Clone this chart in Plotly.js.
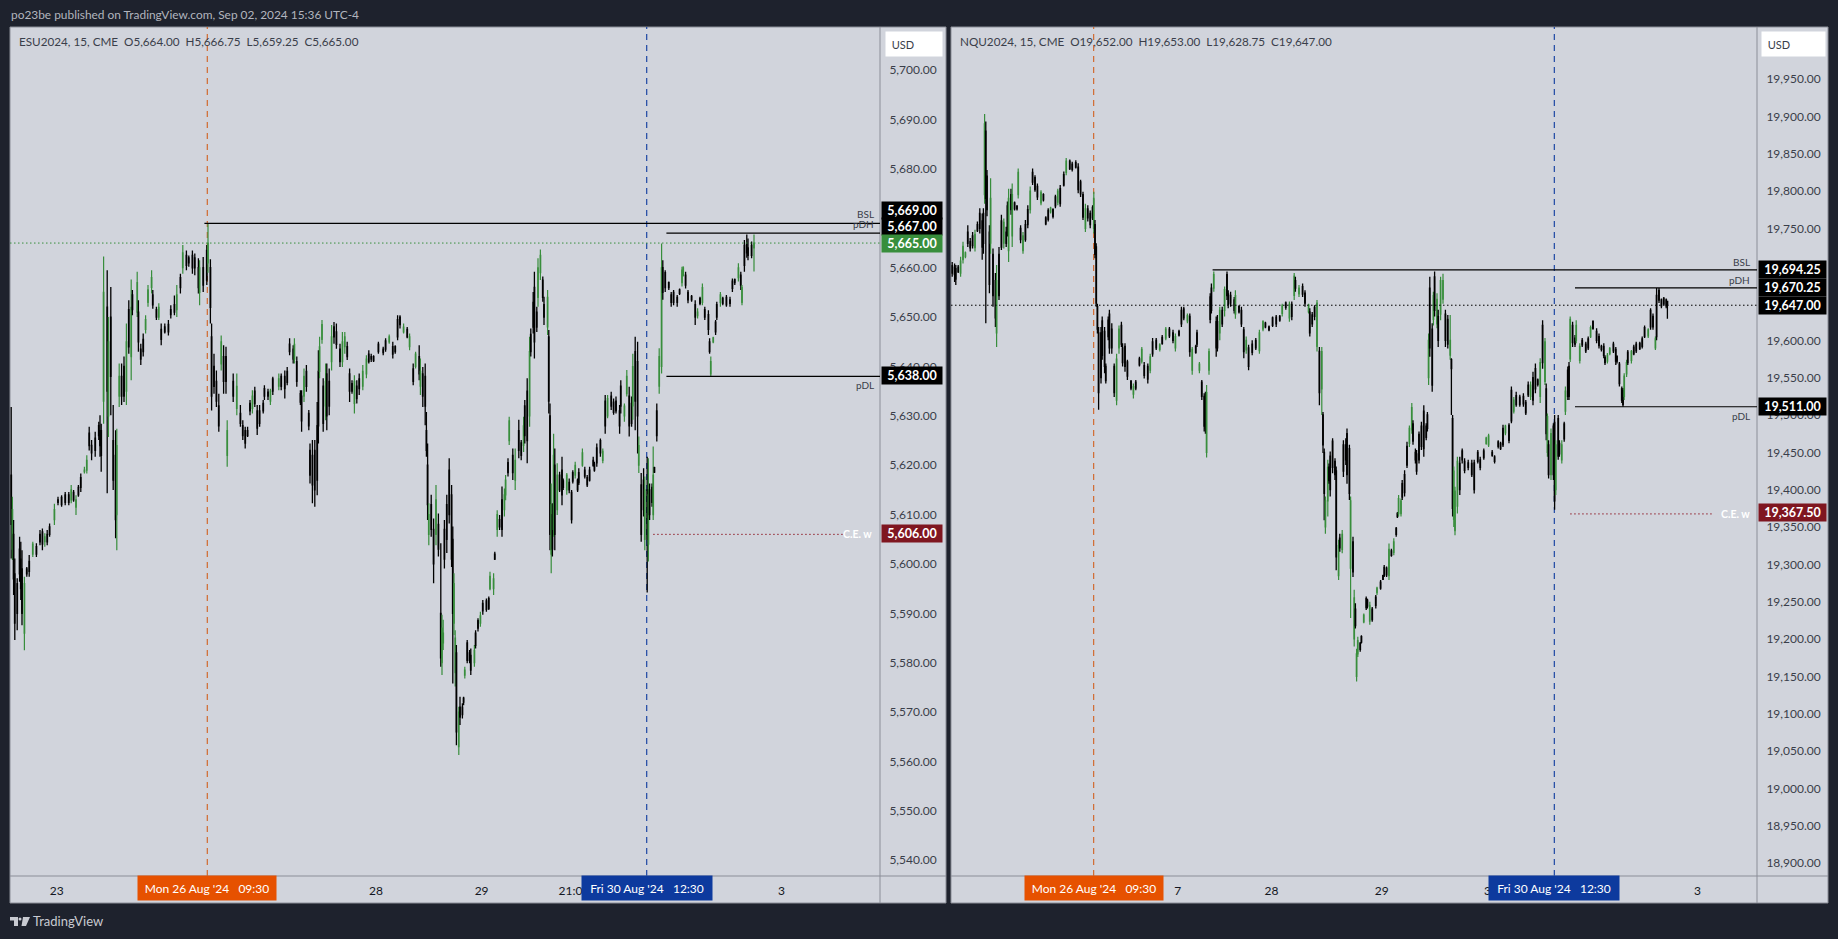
<!DOCTYPE html>
<html>
<head>
<meta charset="utf-8">
<script src="https://cdn.plot.ly/plotly-3.0.1.min.js"></script>
<style>html,body{margin:0;padding:0;background:#1e222d;overflow:hidden}</style>
</head>
<body>
<div id="chart" style="width:1838px;height:939px"></div>
<script>
const esBar=[
1,2,3,4,6,8,9,10,12,14,
16,19,22,25,27,29,31,33,37,40,
43,46,49,51,53,55,57,59,62,64,
66,68,71,74,75,76,78,81,82,84,
86,88,89,91,93,95,97,99,101,102,
106,107,109,111,113,115,118,119,122,124,
126,129,132,134,137,139,142,144,147,149,
152,154,157,158,161,164,165,167,168,170,
172,174,176,178,180,181,186,189,192,194,
196,198,200,202,204,206,208,211,212,215,
217,219,224,226,229,231,233,236,237,239,
242,243,245,247,249,250,252,254,256,257,
258,260,261,263,264,266,268,270,272,275,
277,279,281,283,285,287,289,291,294,297,
299,301,303,307,311,313,316,319,321,323,
325,328,331,333,336,338,341,342,344,346,
347,348,349,351,353,355,357,359,360,361,
362,364,366,368,369,370,371,372,374,375,
377,378,379,381,383,384,387,388,390,392,
394,397,399,400,403,404,406,408,410,412,
413,415,416,419,421,424,426,428,429,431,
433,434,436,437,439,440,442,444,445,448,
449,450,451,452,453,454,456,458,460,461,
464,466,468,469,471,473,474,477,479,481,
483,486,487,489,492,494,496,498,501,503,
505,508,509,512,514,516,518,519,521,523,
524,526,528,529,531,532,533,535,536,537,
539,541,543,544,546,549,551,553,556,558,
560,561,563,565,568,571,573,575,577,579,
582,583,584,586,588,589,592,594,597,600,
602,604,607,609,610,612,614,615,618,620];
const esHigh=[
5631.8,5613.6,5608.9,5601.1,5597.1,5605.5,5604.5,5602.8,5597.4,5599.4,
5601.8,5604.5,5604.2,5606.9,5607.2,5606.2,5606.9,5608.2,5612.2,5613.6,
5613.9,5614.6,5614.6,5616,5615,5613.9,5616,5618.3,5619.7,5622,
5627.8,5625.1,5626.8,5628.8,5630.1,5628.4,5662.3,5659.5,5650,5656.1,
5632.2,5627.1,5627.4,5640.6,5640.6,5642,5648.7,5653.4,5657.6,5655.5,
5659.2,5653.4,5644.6,5646.7,5650.4,5656.5,5659.5,5655.5,5652.1,5652.8,
5648.7,5648.7,5649.4,5652.4,5654.4,5656.5,5658.8,5664.6,5663.5,5662.5,
5663.5,5662.9,5661.9,5661.5,5662.2,5664.6,5669,5661.7,5648.7,5642.6,
5639.2,5634.5,5646.3,5644.3,5644,5629.1,5638.6,5638.6,5632.2,5629.1,
5627.8,5627.8,5633.2,5635.2,5635.9,5632.2,5632.2,5633.2,5636.2,5635.5,
5635.5,5637.9,5638.6,5638.6,5639.2,5639.9,5645.7,5644.3,5645.7,5642,
5635.2,5635.2,5639.6,5640.3,5631.2,5624.4,5625.1,5625.1,5632.8,5643.3,
5646,5649.4,5637.6,5640.6,5640.6,5639.6,5648.4,5649,5648.7,5644.6,
5647,5647,5645,5639.6,5637.2,5638.2,5637.2,5638.6,5640.3,5642.3,
5643.3,5642.6,5642.3,5645,5644,5645.7,5646.5,5645,5644.3,5650.4,
5650.4,5648.7,5648,5646.7,5640.6,5643,5644.3,5641.6,5639.9,5640.6,
5630.8,5624.4,5612.3,5614,5609.2,5616,5610.2,5604.2,5589.7,5588.7,
5608.9,5614,5621.4,5616,5607.6,5598.1,5586.6,5583.6,5571.1,5573.1,
5571.8,5573.1,5579.2,5584.6,5582.6,5582.9,5583.6,5586.6,5589,5590.3,
5592.7,5593,5593.4,5598.4,5598.1,5602.5,5610.9,5609.9,5615.7,5615.3,
5618,5621.4,5629.8,5623.4,5623.4,5629.2,5625.1,5629.8,5633.2,5637.6,
5646,5647.7,5655.1,5659.2,5652.1,5661.9,5663.7,5658.2,5654.1,5655.5,
5647.4,5632.5,5616.3,5612.3,5626.4,5623.4,5620.4,5618.7,5621.7,5617.3,
5618.4,5617.3,5615,5619,5620.7,5617.3,5619.4,5623.4,5619.7,5618,
5619.7,5621.7,5620.7,5624.4,5625.4,5623.4,5634.2,5634.2,5634.9,5633.5,
5633.9,5632.2,5637.2,5632.5,5639.3,5635.9,5633.9,5642.6,5646,5645,
5625.8,5618.4,5619.4,5617.7,5621.7,5621.4,5616.3,5616.3,5623.8,5619.7,
5632.5,5643.7,5664.9,5661.5,5659.5,5657.2,5655.1,5655.5,5654.5,5655.8,
5660.2,5660.3,5659.2,5655.5,5654.5,5653.4,5651.8,5654.1,5656.8,5652.1,
5651.4,5645.7,5642,5646,5649.4,5653.1,5655.1,5654.1,5654.5,5654.1,
5657.8,5657.8,5660.9,5659.2,5656.5,5665.6,5666.75,5665.9,5665.3,5666.75];
const esLow=[
5601.1,5600.8,5593.7,5584.6,5586.6,5596.4,5592.7,5587.6,5582.5,5597.4,
5597.4,5601.4,5601.4,5603.8,5602.8,5603.5,5603.8,5605.5,5607.9,5611.9,
5611.6,5611.9,5611.9,5612.3,5612.6,5609.9,5613.6,5614.6,5618.3,5618.3,
5623,5621,5621.7,5625.1,5621.7,5618.7,5628.4,5614.3,5625.7,5630.1,
5615,5605.2,5602.8,5631.8,5632.2,5632.8,5632.2,5642.6,5637.2,5650.4,
5650,5643,5640.3,5642,5646.7,5652.1,5654.8,5651.7,5649.4,5649.4,
5644.3,5646.7,5646.3,5649.7,5650.4,5650,5654.8,5658.8,5659.5,5660.2,
5658.8,5658.5,5654.8,5652.4,5655.1,5656.5,5659,5648.7,5631.1,5634.5,
5631.8,5626.8,5639.2,5634.5,5634.5,5619.7,5632.8,5630.1,5627.8,5625.1,
5623.4,5625.7,5630.1,5630.5,5631.8,5626.1,5627.8,5630.5,5633.2,5633.2,
5632.2,5634.2,5635.2,5635.2,5633.5,5636.2,5642.3,5640.6,5640.6,5635.9,
5632.2,5626.8,5632.8,5634.9,5627.1,5616.3,5612.3,5611.6,5613.9,5624.4,
5637.6,5644.6,5626.8,5629.1,5627.1,5630.1,5639.2,5644.6,5643.6,5639.9,
5639.9,5642.6,5641.3,5632.8,5634.5,5630.5,5632.5,5634.2,5635.2,5637.6,
5640.6,5640.9,5640.9,5642.6,5642.3,5643,5644.6,5641.6,5642.6,5645.3,
5647.7,5646.7,5645.7,5643.3,5636.2,5639.6,5637.2,5634.2,5631.8,5628.1,
5621.7,5608.9,5603.8,5605.5,5596.1,5603.8,5601.5,5579.2,5577.5,5582.6,
5599.1,5602.2,5608.2,5599.4,5575.8,5585.6,5575.2,5563.3,5561.3,5567.4,
5568.7,5571.4,5576.8,5579.9,5579.9,5577.5,5579.2,5582.9,5586.3,5587.3,
5589.7,5590.3,5590.7,5594.7,5593.7,5600.8,5605.5,5606.9,5605.5,5609.6,
5612.9,5617.7,5624.1,5617,5615,5621.4,5621,5622.7,5624.4,5620.4,
5627.8,5642,5646.7,5641.6,5647,5652.1,5657.5,5653.1,5648.4,5646.4,
5630.5,5602.8,5598.1,5601.5,5605.5,5602.8,5609.9,5614.6,5611.9,5615,
5614,5614.3,5608.2,5616.3,5617.3,5614.6,5616,5619.7,5617.3,5615.6,
5616.7,5619.7,5618.7,5619.7,5621.7,5620.4,5626.4,5629.5,5631.2,5630.2,
5630.5,5626.4,5630.5,5628.8,5633.9,5625.8,5627.8,5629.2,5627.1,5622.4,
5618.4,5604.5,5609.6,5602.8,5594.2,5600.5,5608.9,5611.6,5608.9,5618.4,
5624.8,5634.5,5638.6,5653.5,5655.1,5655.5,5652.1,5652.4,5652.1,5654.5,
5656.2,5658.2,5655.8,5652.8,5653.1,5648.4,5649.7,5652.4,5652.4,5649.4,
5646.4,5642.6,5637.9,5644.7,5646.4,5649.4,5652.1,5652.4,5652.1,5652.1,
5655.1,5656.5,5657.2,5655.5,5652.4,5659.2,5662,5661.5,5661.9,5659.25];
const esBodyA=[
5618,5603,5606,5598,5596,5598,5601,5599,5586,5599,
5598.5,5602,5603.5,5604.5,5606.5,5605.5,5604.5,5606,5611,5613,
5612,5614,5612.5,5613,5614.5,5613,5614,5615.5,5619,5621,
5626.5,5622.5,5625.5,5626,5627,5627,5633,5652,5630,5650,
5625,5622,5610,5634,5638,5634,5635,5651.5,5642,5654.5,
5651,5651,5643.5,5643,5647.5,5653,5658,5654.5,5651.5,5650,
5647.5,5647,5648.5,5650.5,5652.5,5651.5,5658,5660,5662.5,5661,
5660,5662,5660,5660,5656.5,5657.5,5661,5660,5646,5636,
5637,5632,5640.5,5642,5642,5622,5637,5631.5,5630.5,5628,
5627,5626,5631,5634,5632.5,5631,5628.5,5631,5635.5,5634.8,
5633,5635,5637.5,5636,5638,5636.8,5644.5,5643.5,5641.5,5641,
5634.5,5634,5634,5639,5630.5,5623,5622,5623,5617,5628,
5639,5645.5,5636,5632,5638.5,5632,5646,5648,5644.5,5643.5,
5641,5646,5644,5638.5,5635,5637,5633.5,5637.5,5636,5641.5,
5641,5641.5,5642,5644.5,5643.5,5643.5,5645,5644,5643,5646,
5650,5648,5647.5,5646,5639.5,5640,5642,5639,5638.5,5638,
5627,5620,5606,5612,5607,5606,5608,5590,5580,5584,
5607,5612,5619,5614,5605,5596,5578,5582,5563,5571,
5571,5572,5577.5,5584,5582,5578.5,5582.5,5583.5,5587,5589.5,
5592,5590.8,5593,5595,5597,5601,5607,5609,5607,5614,
5614,5618.5,5625,5622,5617,5627,5624.5,5628,5626,5635,
5630,5643,5648,5656,5651,5654,5662.5,5657.5,5650,5654,
5646,5630,5602,5610,5607,5620,5611,5618,5614,5616.8,
5618,5615,5614.5,5616.8,5618,5617,5616.5,5620,5619,5617.5,
5617,5621,5619,5620.5,5625,5621,5633,5630,5634,5630.7,
5633,5631,5632,5632,5634.5,5634,5628.5,5632,5643,5641,
5624,5616,5611,5615,5615,5604,5615,5615.5,5610,5618.6,
5626,5636,5640,5660,5659,5656,5653,5655,5653,5654.8,
5657,5658.5,5658.5,5655,5653.5,5652.5,5651,5652.8,5653,5651.5,
5650.5,5645,5638.5,5645,5647,5650,5654.5,5653.8,5652.5,5653.5,
5655.8,5657,5658,5658.5,5653,5660.5,5665,5664,5664.5,5664];
const esBodyB=[
5608,5611,5597,5588,5590,5603,5595,5590,5596,5598,
5600.5,5604,5602,5606,5604,5604.5,5606,5607.5,5609,5612.5,
5613.5,5612.5,5614,5615,5613,5611.5,5615.5,5617.5,5618.7,5619,
5624,5624,5623,5628,5624,5622,5655,5635,5645,5638,
5617,5609,5624,5638,5634,5640,5645,5644,5652,5651.5,
5657,5645,5641.5,5645.5,5649.5,5655.5,5656,5652.5,5650,5652,
5645.5,5648,5647,5651.5,5651,5654.5,5656,5663,5660.5,5662,
5662.5,5660,5656,5655,5660,5663.5,5665,5652,5634,5640,
5633,5628,5645,5637,5637,5627,5634,5636,5628.5,5626,
5624.5,5627,5632.5,5631.5,5635,5627.5,5631,5632.5,5634,5634,
5635,5637.5,5636,5638,5635.5,5639,5643,5641.5,5644.5,5637,
5632.8,5629,5638,5636,5628,5618,5616,5615,5628,5639,
5644,5648.5,5628.5,5637,5630,5637,5641,5646,5647,5641,
5645,5644,5642,5635,5636.5,5632.5,5636,5635.5,5639,5638.5,
5642.5,5642,5641.2,5643,5642.8,5645.2,5646,5642.5,5644,5649.5,
5648.5,5647,5646,5644,5637,5642.5,5638.5,5636,5634,5632,
5623,5612,5610,5607,5600,5613,5603,5581,5587,5586,
5601,5605,5610,5601,5590,5588,5585,5566,5570,5569,
5569.5,5572.8,5578.5,5580.5,5580.5,5581.5,5580,5586,5588.5,5588,
5590.5,5592.5,5591,5597.5,5595,5602,5610,5607.5,5613,5611,
5617,5620.5,5629,5618.5,5621,5623,5622,5624,5632,5625,
5643,5646.5,5653,5645,5648,5660,5659,5654,5652.5,5648,
5633,5606,5612,5603,5622,5606,5618,5615,5619,5615.5,
5615,5616.5,5609,5618.5,5620,5615,5618.5,5622.5,5617.8,5616,
5619,5620,5620.2,5623.5,5622.5,5622.8,5628,5633.5,5632,5632.8,
5631,5628,5636,5630,5638,5628,5632.5,5640,5633,5630,
5620,5606,5617,5605,5605,5614,5610,5612.5,5618,5619.5,
5631,5642,5660,5655,5656,5657,5654.5,5653,5654,5655.5,
5659.5,5660,5656.5,5653.5,5654.2,5650,5650.3,5653.8,5656,5650,
5647.5,5643,5641,5645.8,5649,5652.5,5653,5652.8,5654,5652.8,
5657.3,5657.6,5660,5656.5,5656,5664.5,5663,5662.5,5662.5,5665];
const esUpBars=[2,12,19,29,37,51,55,62,64,78,82,89,91,97,101,106,113,115,118,124,139,144,158,165,176,181,189,202,217,224,237,245,258,260,263,268,277,279,287,294,297,316,328,333,338,342,349,355,360,361,370,371,374,379,387,392,400,403,406,412,413,416,421,428,433,440,442,448,451,453,456,464,471,477,494,498,512,514,519,524,529,532,536,541,543,560,561,573,577,584,586,592,607,610,620];

const nqBar=[
1,3,4,6,8,10,12,14,16,18,
20,22,24,26,27,28,29,30,32,33,
35,37,38,40,42,44,46,47,48,50,
51,53,55,56,58,60,62,64,66,68,
70,72,75,77,79,81,83,85,87,89,
91,94,96,99,101,104,106,108,110,112,
114,116,118,119,120,121,122,123,125,126,
128,129,131,132,134,136,138,140,142,143,
145,147,150,152,154,157,159,161,164,166,
168,171,174,176,179,182,185,187,190,192,
194,197,199,201,204,205,207,209,211,212,
213,215,216,217,219,221,222,224,226,228,
230,231,233,236,237,240,242,244,246,248,
251,254,257,260,262,265,268,271,274,276,
279,282,284,286,287,290,293,295,298,299,
301,303,305,307,309,310,311,312,314,315,
316,318,320,321,323,324,326,327,329,330,
332,333,335,336,337,338,339,341,342,344,
346,347,349,351,354,355,358,360,361,363,
365,367,369,371,372,373,375,376,378,380,
382,384,385,387,388,390,392,394,396,397,
398,399,401,402,403,405,406,408,410,412,
414,416,417,418,419,420,422,424,426,428,
431,434,436,439,441,444,446,448,451,453,
456,458,460,462,465,467,469,471,474,477,
479,481,483,485,487,489,491,493,495,496,
497,498,500,502,503,504,506,507,509,511,
512,514,515,516,518,520,521,524,526,529,
531,533,535,538,540,542,544,545,547,549,
552,554,555,557,559,560,561,563,564,567,
569,571,574,576,578,581,583,585,587,588,
590,592,594,596,597];
const nqHigh=[
19705,19703,19701,19701,19712,19732,19719,19754,19737,19745,
19748,19759,19777,19770,19777,19903,19893,19828,19754,19817,
19723,19690,19701,19725,19768,19763,19752,19786,19803,19803,
19810,19786,19781,19830,19754,19745,19761,19781,19806,19830,
19821,19810,19801,19797,19766,19777,19779,19777,19795,19803,
19808,19826,19844,19842,19839,19841,19837,19815,19799,19783,
19781,19774,19781,19799,19761,19730,19649,19618,19618,19632,
19618,19569,19632,19641,19623,19569,19582,19620,19625,19596,
19596,19574,19547,19542,19547,19578,19591,19571,19569,19582,
19603,19603,19596,19607,19618,19618,19614,19609,19614,19645,
19645,19636,19636,19591,19594,19614,19571,19547,19529,19531,
19540,19589,19663,19676,19692,19632,19634,19645,19645,19672,
19692,19667,19665,19658,19667,19647,19645,19618,19605,19594,
19600,19603,19614,19627,19625,19620,19632,19634,19634,19649,
19652,19652,19652,19690,19685,19674,19676,19667,19649,19643,
19638,19647,19654,19591,19591,19504,19455,19391,19440,19435,
19451,19469,19442,19431,19333,19341,19346,19466,19469,19482,
19460,19391,19337,19266,19248,19187,19203,19196,19205,19234,
19257,19254,19250,19243,19259,19270,19279,19286,19299,19297,
19328,19321,19335,19350,19370,19393,19388,19413,19426,19464,
19486,19516,19493,19455,19453,19478,19491,19513,19489,19504,
19609,19685,19623,19665,19692,19663,19641,19685,19689,19641,
19634,19634,19576,19500,19431,19404,19444,19444,19455,19442,
19440,19440,19440,19453,19444,19455,19471,19475,19453,19446,
19466,19464,19487,19487,19489,19538,19524,19531,19527,19529,
19520,19545,19545,19558,19569,19549,19576,19627,19603,19542,
19502,19466,19482,19489,19500,19466,19500,19466,19466,19491,
19538,19565,19571,19632,19625,19607,19627,19596,19603,19598,
19605,19620,19627,19616,19609,19594,19596,19580,19583,19591,
19598,19591,19580,19571,19538,19536,19556,19574,19587,19587,
19594,19598,19598,19605,19620,19616,19643,19636,19605,19670,
19670,19656,19658,19656,19653];
const nqLow=[
19685,19678,19674,19690,19685,19703,19710,19725,19719,19723,
19719,19745,19743,19708,19716,19783,19623,19766,19663,19716,
19645,19618,19591,19654,19721,19723,19725,19739,19705,19768,
19725,19774,19774,19790,19730,19716,19732,19750,19770,19808,
19799,19788,19781,19786,19754,19759,19770,19763,19777,19781,
19779,19806,19821,19828,19826,19830,19797,19792,19761,19745,
19759,19750,19761,19743,19710,19645,19609,19507,19542,19574,
19556,19542,19600,19582,19582,19524,19513,19582,19591,19565,
19558,19547,19533,19522,19533,19565,19569,19549,19542,19556,
19578,19587,19585,19594,19600,19603,19596,19585,19605,19618,
19627,19623,19578,19554,19582,19591,19556,19520,19478,19475,
19443,19554,19623,19636,19665,19578,19585,19600,19618,19632,
19654,19643,19645,19636,19629,19636,19618,19576,19582,19560,
19580,19587,19582,19612,19616,19612,19618,19618,19625,19632,
19641,19625,19627,19654,19665,19658,19658,19645,19636,19605,
19618,19627,19585,19513,19500,19449,19359,19341,19364,19408,
19391,19422,19413,19292,19279,19317,19315,19417,19433,19408,
19386,19228,19283,19190,19214,19143,19176,19183,19194,19221,
19239,19241,19219,19223,19241,19259,19266,19279,19283,19283,
19279,19310,19312,19337,19362,19364,19364,19386,19391,19429,
19457,19475,19460,19435,19420,19435,19453,19444,19466,19478,
19540,19578,19531,19620,19632,19616,19591,19627,19649,19591,
19589,19574,19500,19364,19350,19339,19368,19393,19435,19422,
19426,19417,19395,19435,19426,19440,19460,19457,19444,19435,
19455,19453,19457,19473,19462,19489,19502,19511,19511,19511,
19500,19524,19520,19513,19529,19538,19516,19562,19540,19466,
19444,19415,19413,19413,19373,19393,19440,19444,19435,19464,
19500,19520,19520,19571,19591,19591,19596,19569,19591,19583,
19587,19603,19614,19596,19589,19585,19576,19567,19569,19580,
19583,19567,19569,19538,19516,19511,19520,19551,19567,19569,
19580,19583,19587,19589,19603,19603,19614,19614,19587,19600,
19650,19643,19647,19643,19628.75];
const nqBodyA=[
19700,19688,19696,19692,19690,19708,19712,19745,19732,19727,
19724,19747,19770,19760,19730,19795,19880,19820,19675,19790,
19715,19680,19610,19660,19725,19758,19730,19745,19720,19795,
19740,19784,19776,19795,19750,19720,19735,19755,19775,19825,
19818,19792,19798,19788,19764,19762,19777,19766,19780,19800,
19783,19808,19825,19840,19829,19838,19832,19812,19795,19750,
19776,19770,19764,19790,19755,19725,19645,19610,19550,19626,
19612,19546,19605,19635,19590,19565,19520,19615,19595,19590,
19592,19571,19545,19528,19544,19567,19588,19553,19565,19560,
19582,19600,19594,19596,19603,19615,19600,19605,19607,19622,
19642,19626,19632,19588,19584,19595,19568,19544,19525,19482,
19450,19560,19628,19640,19670,19625,19590,19640,19622,19668,
19660,19662,19650,19654,19635,19645,19640,19614,19587,19590,
19595,19590,19586,19615,19623,19614,19620,19631,19627,19646,
19650,19630,19648,19660,19680,19662,19672,19663,19647,19638,
19622,19644,19650,19585,19535,19500,19450,19350,19430,19430,
19400,19465,19420,19425,19325,19322,19340,19425,19460,19475,
19455,19385,19290,19200,19240,19150,19180,19194,19196,19223,
19242,19252,19245,19226,19245,19262,19276,19280,19285,19295,
19285,19318,19316,19340,19364,19368,19385,19390,19420,19433,
19462,19480,19488,19450,19425,19474,19458,19505,19470,19482,
19550,19590,19615,19628,19640,19655,19600,19635,19680,19635,
19628,19600,19574,19495,19360,19345,19438,19400,19452,19426,
19436,19420,19436,19438,19440,19443,19462,19472,19450,19438,
19458,19462,19460,19485,19486,19492,19520,19514,19524,19515,
19517,19527,19540,19520,19562,19541,19525,19570,19598,19535,
19498,19460,19420,19485,19490,19400,19445,19462,19440,19468,
19505,19525,19525,19575,19620,19595,19600,19592,19594,19595,
19590,19605,19625,19612,19605,19592,19592,19577,19572,19582,
19595,19588,19572,19568,19535,19533,19525,19555,19570,19585,
19582,19595,19589,19592,19605,19614,19618,19632,19602,19605,
19667,19654,19649,19654,19652];
const nqBodyB=[
19690,19698,19682,19698,19706,19726,19717,19730,19724,19740,
19742,19755,19750,19725,19770,19890,19790,19775,19745,19730,
19660,19630,19680,19715,19760,19730,19745,19780,19790,19775,
19795,19776,19780,19825,19735,19740,19755,19775,19800,19812,
19802,19806,19784,19795,19756,19774,19772,19775,19792,19785,
19803,19822,19840,19830,19836,19832,19802,19796,19765,19776,
19764,19755,19778,19750,19715,19650,19615,19530,19610,19580,
19565,19565,19627,19590,19615,19530,19575,19590,19620,19570,
19565,19552,19536,19538,19536,19575,19572,19566,19548,19578,
19598,19590,19588,19604,19615,19606,19610,19590,19612,19640,
19630,19633,19585,19560,19592,19610,19560,19525,19485,19525,
19530,19585,19658,19670,19688,19590,19625,19610,19640,19640,
19688,19648,19660,19640,19660,19638,19622,19585,19600,19565,
19584,19600,19610,19625,19618,19618,19630,19622,19632,19636,
19644,19648,19632,19686,19670,19670,19662,19650,19638,19610,
19634,19632,19592,19530,19585,19460,19395,19385,19385,19412,
19445,19430,19438,19310,19285,19335,19320,19460,19440,19420,
19395,19295,19330,19255,19218,19180,19198,19186,19203,19232,
19254,19244,19224,19240,19256,19268,19268,19285,19296,19286,
19320,19312,19330,19348,19368,19388,19368,19408,19396,19458,
19482,19510,19465,19440,19448,19440,19485,19455,19485,19500,
19600,19670,19540,19660,19685,19622,19632,19680,19655,19600,
19595,19580,19562,19375,19425,19398,19378,19435,19440,19438,
19430,19435,19400,19450,19430,19452,19469,19460,19446,19444,
19464,19455,19482,19476,19466,19533,19505,19526,19514,19525,
19503,19540,19525,19550,19535,19547,19570,19620,19545,19475,
19450,19420,19475,19420,19385,19460,19495,19448,19460,19488,
19532,19560,19565,19628,19597,19603,19620,19573,19600,19586,
19602,19617,19616,19600,19593,19588,19580,19570,19580,19589,
19586,19572,19578,19542,19520,19514,19552,19570,19584,19573,
19591,19586,19596,19602,19617,19606,19640,19618,19590,19660,
19654,19646,19656,19646,19647];
const nqUpBars=[8,10,12,20,28,33,38,44,48,51,56,60,66,75,83,89,96,112,119,138,140,152,159,166,174,179,187,197,201,207,213,215,219,224,228,237,246,257,260,276,282,286,290,298,305,309,312,314,323,326,333,336,338,339,344,349,355,365,369,373,375,382,384,398,402,405,408,410,416,419,420,422,446,448,462,469,483,491,495,497,500,504,509,512,516,521,524,533,547,549,561,563,567,581,587];

const esBarRange=[0,725], nqBarRange=[0,671.67];
const esPriceRange=[5536.8,5708.76], nqPriceRange=[18882.6,20019.6];
const esTickVals=[5540,5550,5560,5570,5580,5590,5600,5610,5620,5630,5640,5650,5660,5670,5680,5690,5700];
const nqTickVals=[18900,18950,19000,19050,19100,19150,19200,19250,19300,19350,19400,19450,19500,19550,19600,19650,19700,19750,19800,19850,19900,19950];
const esTimeBars=[39,305,393,470,643], esTimeLabels=['23','28','29','21:00','3'];
const nqTimeBars=[189,267,359,450,622], nqTimeLabels=['7','28','29','30','3'];
const es={bsl:5669,pdh:5667,last:5665,pdl:5638,ce:5606,mon:164.4,fri:530.6,bslFrom:162,levelFrom:547,ceFrom:536,ceTo:695};
const nq={bsl:19694.25,pdh:19670.25,last:19647,pdl:19511,ce:19367.5,mon:118.9,fri:502.75,bslFrom:218,levelFrom:520,ceFrom:516,ceTo:636};

const W=1838,H=939,FONT='Lato, "Noto Sans", sans-serif';
const PX=x=>x/W, PY=y=>1-y/H;
const TOP=27,PLOT_BOTTOM=876,BOTTOM=903;
const INK='#131722',TXT='#3a3e4a',PANEL='#d1d4dc',EDGE='#8b8e98',ORANGE='#e65100',BLUE='#0d3a9e',GREEN='#388e3c',RED='#7f1620';

function candles(xa,ya,x,a,b,h,l,up){
  const o=[],c=[];
  x.forEach((bar,i)=>{
    const lo=Math.min(a[i],b[i]),hi=Math.max(a[i],b[i]);
    if(up.includes(bar)){o.push(lo);c.push(hi);}else{o.push(hi);c.push(lo);}
  });
  return {type:'candlestick',xaxis:xa,yaxis:ya,x:x,open:o,high:h,low:l,close:c,whiskerwidth:0,
    increasing:{line:{color:GREEN,width:1.2},fillcolor:GREEN},
    decreasing:{line:{color:'#000000',width:1.3},fillcolor:'#000000'},
    hoverinfo:'skip',showlegend:false};
}
const data=[candles('x','y',esBar,esBodyA,esBodyB,esHigh,esLow,esUpBars),candles('x2','y2',nqBar,nqBodyA,nqBodyB,nqHigh,nqLow,nqUpBars)];

function xAxis(domain,range,vals,labels,anchor){
  return {domain:domain,range:range,type:'linear',anchor:anchor,fixedrange:true,showgrid:false,zeroline:false,
    showline:false,rangeslider:{visible:false},tickmode:'array',tickvals:vals,ticktext:labels,ticks:'outside',ticklen:4,
    tickcolor:'rgba(0,0,0,0)',tickfont:{family:FONT,size:12,color:INK}};
}
function yAxis(range,vals,anchor){
  return {domain:[PY(PLOT_BOTTOM),PY(TOP)],range:range,type:'linear',anchor:anchor,side:'right',fixedrange:true,showgrid:false,zeroline:false,
    showline:false,tickmode:'array',tickvals:vals,tickformat:',.2f',ticks:'outside',ticklen:6,
    tickcolor:'rgba(0,0,0,0)',tickfont:{family:FONT,size:12,color:TXT}};
}

const shapes=[];
function paperRect(x0,y0,x1,y1,fill,line){
  shapes.push({type:'rect',xref:'paper',yref:'paper',x0:PX(x0),x1:PX(x1),y0:PY(y0),y1:PY(y1),fillcolor:fill,line:{color:line||fill,width:line?1:0},layer:'below'});
}
function paperLine(x0,y0,x1,y1,color){
  shapes.push({type:'line',xref:'paper',yref:'paper',x0:PX(x0),x1:PX(x1),y0:PY(y0),y1:PY(y1),line:{color:color,width:1},layer:'above'});
}
function level(xr,yr,from,to,y,color,dash,width){
  shapes.push({type:'line',xref:xr,yref:yr,x0:from,x1:to,y0:y,y1:y,line:{color:color,width:width||1.2,dash:dash||'solid'},layer:'above'});
}
function vert(xr,x,color){
  shapes.push({type:'line',xref:xr,yref:'paper',x0:x,x1:x,y0:PY(PLOT_BOTTOM),y1:PY(TOP),line:{color:color,width:1.1,dash:'6px,5px'},layer:'below'});
}
paperRect(10,TOP,946,BOTTOM,PANEL,EDGE);
paperRect(951,TOP,1828,BOTTOM,PANEL,EDGE);
paperLine(880,TOP,880,BOTTOM,EDGE);paperLine(10,PLOT_BOTTOM,946,PLOT_BOTTOM,EDGE);
paperLine(1757,TOP,1757,BOTTOM,EDGE);paperLine(951,PLOT_BOTTOM,1828,PLOT_BOTTOM,EDGE);

function panelShapes(m,xr,yr,xMax){
  vert(xr,m.mon,'#d2601f');vert(xr,m.fri,BLUE);
  level(xr,yr,m.bslFrom,xMax,m.bsl,'#000');
  level(xr,yr,m.levelFrom,xMax,m.pdh,'#000');
  level(xr,yr,m.levelFrom,xMax,m.pdl,'#000');
}
panelShapes(es,'x','y',esBarRange[1]);
panelShapes(nq,'x2','y2',nqBarRange[1]);
const DOT='1.5px,2.5px';
level('x','y',0,esBarRange[1],es.last,GREEN,DOT,1);
level('x2','y2',0,nqBarRange[1],nq.last,'#000',DOT,1);
level('x','y',es.ceFrom,es.ceTo,es.ce,'#8f1c28',DOT,1);
level('x2','y2',nq.ceFrom,nq.ceTo,nq.ce,'#8f1c28',DOT,1);

/* TradingView mark */
shapes.push({type:'path',xref:'paper',yref:'paper',fillcolor:'#c8cad1',line:{width:0},layer:'above',
  path:['M',PX(10),PY(917),'L',PX(18),PY(917),'L',PX(18),PY(926),'L',PX(14),PY(926),'L',PX(14),PY(920.5),'L',PX(10),PY(920.5),'Z',
        'M',PX(23),PY(917),'L',PX(30),PY(917),'L',PX(26),PY(926),'L',PX(21.5),PY(926),'Z'].join(' ')});
shapes.push({type:'circle',xref:'paper',yref:'paper',fillcolor:'#c8cad1',line:{width:0},layer:'above',x0:PX(18.5),x1:PX(21.5),y0:PY(920.5),y1:PY(917.5)});

const ann=[];
function pageText(x,y,text,size,color,anchor,extra){
  ann.push(Object.assign({xref:'paper',yref:'paper',x:PX(x),y:PY(y),text:text,showarrow:false,xanchor:anchor||'left',yanchor:'middle',
    font:{family:FONT,size:size,color:color},borderpad:0},extra||{}));
}
function priceTag(yr,value,left,width,bg,shift){
  ann.push({xref:'paper',yref:yr,x:PX(left),y:value,yshift:shift||0,xanchor:'left',yanchor:'middle',showarrow:false,
    text:'<b>'+value.toLocaleString('en-US',{minimumFractionDigits:2,maximumFractionDigits:2})+'</b>',
    width:width,height:17,bgcolor:bg,borderpad:0,align:'center',font:{family:FONT,size:12.5,color:'#ffffff'}});
}
function dateTag(xr,x,text,width,bg){
  ann.push({xref:xr,yref:'paper',x:x,y:PY(888),xanchor:'center',yanchor:'middle',showarrow:false,text:text,width:width,height:24,
    bgcolor:bg,borderpad:0,align:'center',font:{family:FONT,size:12,color:'#ffffff'}});
}
pageText(10,14,'po23be published on TradingView.com, Sep 02, 2024 15:36 UTC-4',11.9,'#b2b5be');
pageText(18,41,'ESU2024, 15, CME&nbsp;&nbsp;O5,664.00&nbsp;&nbsp;H5,666.75&nbsp;&nbsp;L5,659.25&nbsp;&nbsp;C5,665.00',11.7,TXT);
pageText(959,41,'NQU2024, 15, CME&nbsp;&nbsp;O19,652.00&nbsp;&nbsp;H19,653.00&nbsp;&nbsp;L19,628.75&nbsp;&nbsp;C19,647.00',11.7,TXT);
pageText(32,921,'TradingView',13,'#c8cad1');

pageText(885,44,'&nbsp;&nbsp;USD',11,TXT,'left',{width:56,height:24,bgcolor:'#ffffff',align:'left'});
pageText(1761,44,'&nbsp;&nbsp;USD',11,TXT,'left',{width:63,height:24,bgcolor:'#ffffff',align:'left'});

priceTag('y',es.bsl,881,60,'#000000',13);
priceTag('y',es.pdh,881,60,'#000000',7);
priceTag('y',es.last,881,60,GREEN,0);
priceTag('y',es.pdl,881,60,'#000000',1);
priceTag('y',es.ce,881,60,RED,1);
priceTag('y2',nq.bsl,1758,67,'#000000',0);
priceTag('y2',nq.pdh,1758,67,'#000000',0);
priceTag('y2',nq.last,1758,67,'#000000',0);
priceTag('y2',nq.pdl,1758,67,'#000000',0);
priceTag('y2',nq.ce,1758,67,RED,1);

pageText(875,214,'BSL',10,TXT,'right');
pageText(875,224,'pDH',10,TXT,'right');
pageText(875,385,'pDL',10,TXT,'right');
pageText(873,534,'<b>C.E. w</b>',10.5,'#ffffff','right');
pageText(1751,262,'BSL',10,TXT,'right');
pageText(1751,280,'pDH',10,TXT,'right');
pageText(1751,416,'pDL',10,TXT,'right');
pageText(1751,514,'<b>C.E. w</b>',10.5,'#ffffff','right');

dateTag('x',es.mon,"Mon 26 Aug '24&nbsp;&nbsp;&nbsp;09:30",138,ORANGE);
dateTag('x',es.fri,"Fri 30 Aug '24&nbsp;&nbsp;&nbsp;12:30",130,BLUE);
dateTag('x2',nq.mon,"Mon 26 Aug '24&nbsp;&nbsp;&nbsp;09:30",138,ORANGE);
dateTag('x2',nq.fri,"Fri 30 Aug '24&nbsp;&nbsp;&nbsp;12:30",130,BLUE);

const layout={
  width:W,height:H,margin:{l:0,r:0,t:0,b:0,pad:0},autosize:false,
  paper_bgcolor:'#1e222d',plot_bgcolor:PANEL,showlegend:false,hovermode:false,dragmode:false,
  font:{family:FONT},
  xaxis:xAxis([PX(10),PX(880)],esBarRange,esTimeBars,esTimeLabels,'y'),
  yaxis:yAxis(esPriceRange,esTickVals,'x'),
  xaxis2:xAxis([PX(951),PX(1757)],nqBarRange,nqTimeBars,nqTimeLabels,'y2'),
  yaxis2:yAxis(nqPriceRange,nqTickVals,'x2'),
  shapes:shapes,annotations:ann
};
Plotly.newPlot('chart',data,layout,{displayModeBar:false,staticPlot:true,responsive:false});
</script>
</body>
</html>
